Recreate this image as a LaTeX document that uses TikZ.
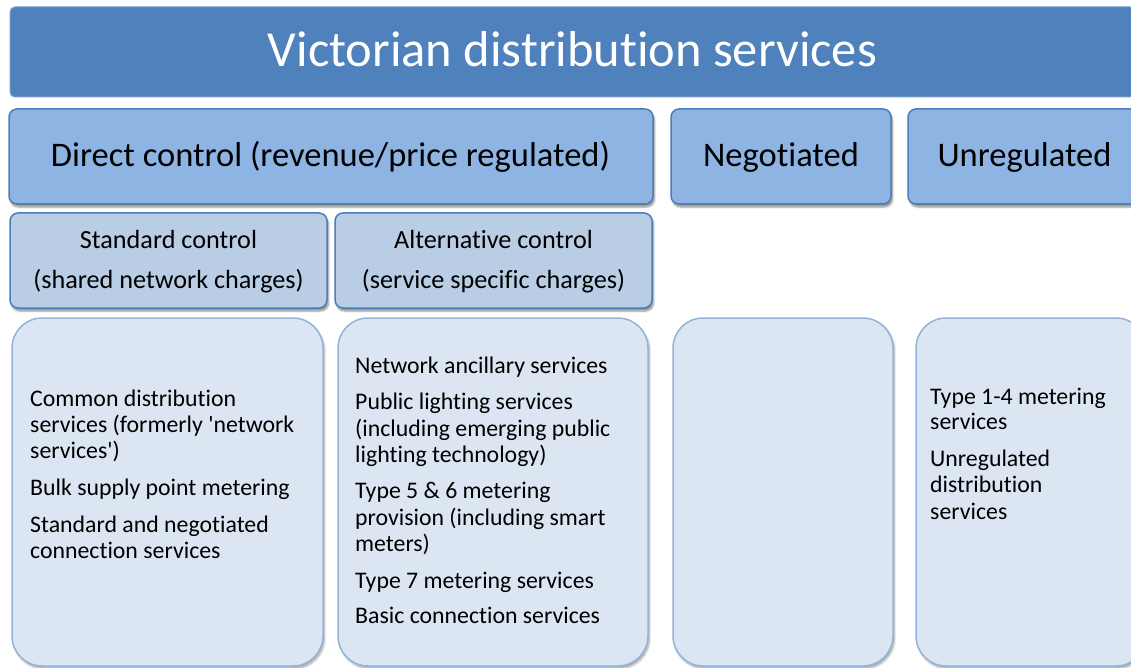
\documentclass[tikz,border=0pt]{standalone}
\usepackage{fontspec}
\setmainfont{Carlito}[Ligatures={NoCommon}]
\usetikzlibrary{shadows.blur}
\definecolor{titleblue}{HTML}{4F81BD}
\definecolor{midblue}{HTML}{8EB4E3}
\definecolor{midborder}{HTML}{4A7EBB}
\definecolor{paleblue}{HTML}{B9CDE5}
\definecolor{lightfill}{HTML}{DCE6F2}
\definecolor{lightborder}{HTML}{95B3D7}
\tikzset{
  titlebox/.style={draw=titleblue!80!white, line width=1pt, fill=titleblue, rounded corners=5pt, inner sep=0pt},
  catbox/.style={draw=midborder, line width=1.5pt, fill=midblue, rounded corners=8pt, inner sep=0pt,
    blur shadow={shadow xshift=1.5pt, shadow yshift=-3pt, shadow blur steps=6, shadow opacity=45}},
  subbox/.style={draw=midborder, line width=1.5pt, fill=paleblue, rounded corners=8pt, inner sep=0pt,
    blur shadow={shadow xshift=1.5pt, shadow yshift=-3pt, shadow blur steps=6, shadow opacity=45}},
  listbox/.style={draw=lightborder, line width=1.5pt, fill=lightfill, rounded corners=30pt, inner sep=0pt,
    blur shadow={shadow xshift=1.5pt, shadow yshift=-2.5pt, shadow blur steps=6, shadow opacity=35}},
  titletext/.style={anchor=base, inner sep=0pt, text=white, font=\fontsize{50.5}{60}\selectfont},
  cattext/.style={anchor=base, inner sep=0pt, font=\fontsize{34.5}{40}\selectfont},
  subtext/.style={anchor=base, inner sep=0pt, font=\fontsize{26.2}{30}\selectfont},
  itemtext/.style={anchor=base west, inner sep=0pt, font=\fontsize{23.8}{26}\selectfont},
}
\begin{document}
\begin{tikzpicture}[x=1pt, y=-1pt]
\useasboundingbox (0,0) rectangle (1131,668);
\clip (0,0) rectangle (1131,668);

% title
\node[titlebox, minimum width=1125pt, minimum height=90pt] (title) at (572.5,52) {};
\node[titletext] (titlelbl) at (572.5,67) {Victorian distribution services};

% category row
\node[catbox, minimum width=644pt, minimum height=95pt] (direct) at (331,156.5) {};
\node[catbox, minimum width=220pt, minimum height=95pt] (negot) at (781,156.5) {};
\node[catbox, minimum width=233pt, minimum height=95pt] (unreg) at (1024.5,156.5) {};
\node[cattext] (directlbl) at (330.5,167) {Direct control (revenue/price regulated)};
\node[cattext] (negotlbl) at (781,167) {Negotiated};
\node[cattext] (unreglbl) at (1024.5,167) {Unregulated};

% sub row
\node[subbox, minimum width=317pt, minimum height=95pt] (std) at (168.5,260.5) {};
\node[subbox, minimum width=317pt, minimum height=95pt] (alt) at (493.5,260.5) {};
\node[subtext] (stdA) at (168.5,248) {Standard control};
\node[subtext] (stdB) at (168.5,288) {(shared network charges)};
\node[subtext] (altA) at (493.5,248) {Alternative control};
\node[subtext] (altB) at (493.5,288) {(service specific charges)};

% list boxes
\node[listbox, minimum width=311pt, minimum height=348pt] (list1) at (167.5,492) {};
\node[listbox, minimum width=310pt, minimum height=348pt] (list2) at (493,492) {};
\node[listbox, minimum width=220pt, minimum height=348pt] (list3) at (783,492) {};
\node[listbox, minimum width=230pt, minimum height=348pt] (list4) at (1031,492) {};

% list 1 text
\node[itemtext] (l1a) at (30,406) {Common distribution};
\node[itemtext] (l1b) at (30,432) {services (formerly \textquotesingle network};
\node[itemtext] (l1c) at (30,458) {services\textquotesingle)};
\node[itemtext] (l1d) at (30,495) {Bulk supply point metering};
\node[itemtext] (l1e) at (30,532) {Standard and negotiated};
\node[itemtext] (l1f) at (30,558) {connection services};

% list 2 text
\node[itemtext] (l2a) at (355,373) {Network ancillary services};
\node[itemtext] (l2b) at (355,409) {Public lighting services};
\node[itemtext] (l2c) at (355,436) {(including emerging public};
\node[itemtext] (l2d) at (355,462) {lighting technology)};
\node[itemtext] (l2e) at (355,498) {Type 5 \& 6 metering};
\node[itemtext] (l2f) at (355,525) {provision (including smart};
\node[itemtext] (l2g) at (355,551) {meters)};
\node[itemtext] (l2h) at (355,588) {Type 7 metering services};
\node[itemtext] (l2i) at (355,623) {Basic connection services};

% list 4 text
\node[itemtext] (l4a) at (930,404) {Type 1-4 metering};
\node[itemtext] (l4b) at (930,429) {services};
\node[itemtext] (l4c) at (930,466) {Unregulated};
\node[itemtext] (l4d) at (930,492) {distribution};
\node[itemtext] (l4e) at (930,519) {services};
\end{tikzpicture}
\end{document}
